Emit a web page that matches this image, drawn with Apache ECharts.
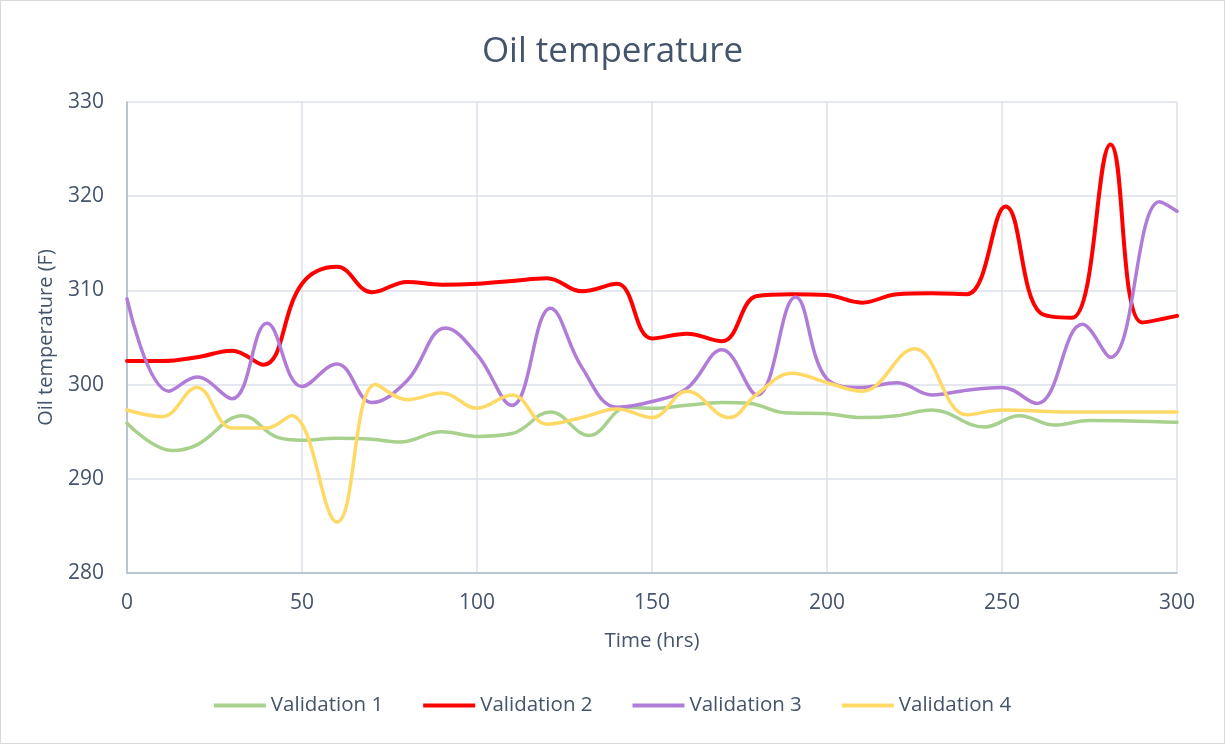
<!DOCTYPE html>
<html><head><meta charset="utf-8">
<script src="https://cdn.jsdelivr.net/npm/echarts@6/dist/echarts.min.js"></script>
<style>html,body{margin:0;padding:0;background:#fff}#c{width:1225px;height:744px;box-sizing:border-box;border:1px solid #d9d9d9}</style>
</head><body><div id="c"></div>
<script>
const seriesNames = ['Validation 1','Validation 2','Validation 3','Validation 4'];
const xTicks = [0,50,100,150,200,250,300];
const yTicks = [280,290,300,310,320,330];
const validation1 = [[0,295.9],[13,293.0],[20,293.6],[33,296.7],[43,294.4],[50,294.1],[60,294.3],[70,294.2],[78,293.9],[90,295.0],[100,294.5],[110,294.8],[121,297.1],[132,294.6],[143,297.6],[150,297.5],[160,297.8],[170,298.1],[178,298.0],[188,297.0],[200,296.9],[210,296.5],[220,296.7],[230,297.3],[245,295.5],[255,296.7],[265,295.7],[275,296.2],[300,296.0]];
const validation2 = [[0,302.5],[10,302.5],[20,302.9],[30,303.6],[39,302.1],[50,310.7],[60,312.5],[70,309.8],[80,310.9],[90,310.6],[100,310.7],[110,311.0],[120,311.3],[130,309.9],[140,310.7],[150,304.9],[160,305.4],[170,304.6],[180,309.4],[190,309.6],[200,309.5],[210,308.7],[220,309.6],[230,309.7],[240,309.6],[251,318.9],[261,307.6],[270,307.1],[281,325.5],[290,306.6],[300,307.3]];
const validation3 = [[0,309.1],[12,299.3],[20,300.8],[30,298.5],[40,306.5],[50,299.8],[60,302.2],[70,298.1],[80,300.4],[91,306.0],[100,303.2],[110,297.8],[121,308.1],[130,301.8],[140,297.6],[150,298.2],[160,299.6],[170,303.7],[180,298.9],[191,309.3],[200,300.6],[210,299.7],[220,300.2],[230,298.9],[240,299.4],[250,299.7],[260,298.0],[273,306.4],[281,302.9],[295,319.4],[300,318.4]];
const validation4 = [[0,297.3],[10,296.6],[20,299.7],[30,295.4],[40,295.4],[47,296.7],[60,285.4],[71,300.0],[80,298.4],[90,299.1],[100,297.5],[110,298.9],[120,295.8],[130,296.5],[140,297.4],[150,296.5],[160,299.3],[172,296.5],[180,299.0],[190,301.2],[200,300.2],[210,299.3],[225,303.8],[240,296.8],[250,297.3],[270,297.1],[300,297.1]];
const dataSets = [validation1, validation2, validation3, validation4];
const colors = ['#a9d18e','#ff0000','#b07cd8','#ffd966'];
const widths = [3.5,4,3.5,3.5];
const txt = '#44546a';
const font = 'Open Sans';
const chart = echarts.init(document.getElementById('c'));
chart.setOption({
  animation:false,
  textStyle:{fontFamily:font},
  title:{text:'Oil temperature',left:'center',top:29,textStyle:{fontFamily:font,fontSize:35,fontWeight:'normal',color:txt}},
  grid:{left:126,right:47,top:101,bottom:170,containLabel:false},
  legend:{bottom:22,left:'center',itemWidth:52,itemHeight:4,itemGap:40,icon:'rect',
    textStyle:{fontFamily:font,fontSize:20.5,color:txt},data:seriesNames},
  xAxis:{type:'value',min:0,max:300,interval:50,name:'Time (hrs)',nameLocation:'middle',nameGap:58,
    nameTextStyle:{fontFamily:font,fontSize:20.5,color:txt},
    axisLine:{show:true,lineStyle:{color:'#adb9ca',width:1.5}},axisTick:{show:false},
    axisLabel:{fontSize:21,color:txt,margin:20,fontFamily:font},
    splitLine:{show:true,lineStyle:{color:'#dde1ea',width:1.5}}},
  yAxis:{type:'value',min:280,max:330,interval:10,name:'Oil temperature (F)',nameLocation:'middle',nameGap:71,
    nameTextStyle:{fontFamily:font,fontSize:20,color:txt},
    axisLine:{show:true,lineStyle:{color:'#adb9ca',width:1.5}},axisTick:{show:false},
    axisLabel:{fontSize:21,color:txt,margin:23,fontFamily:font},
    splitLine:{show:true,lineStyle:{color:'#dde1ea',width:1.5}}},
  series:dataSets.map((d,i)=>({name:seriesNames[i],type:'line',data:d,smooth:0.4,showSymbol:false,
    itemStyle:{color:colors[i]},lineStyle:{color:colors[i],width:widths[i],cap:'round'}}))
});
</script></body></html>
